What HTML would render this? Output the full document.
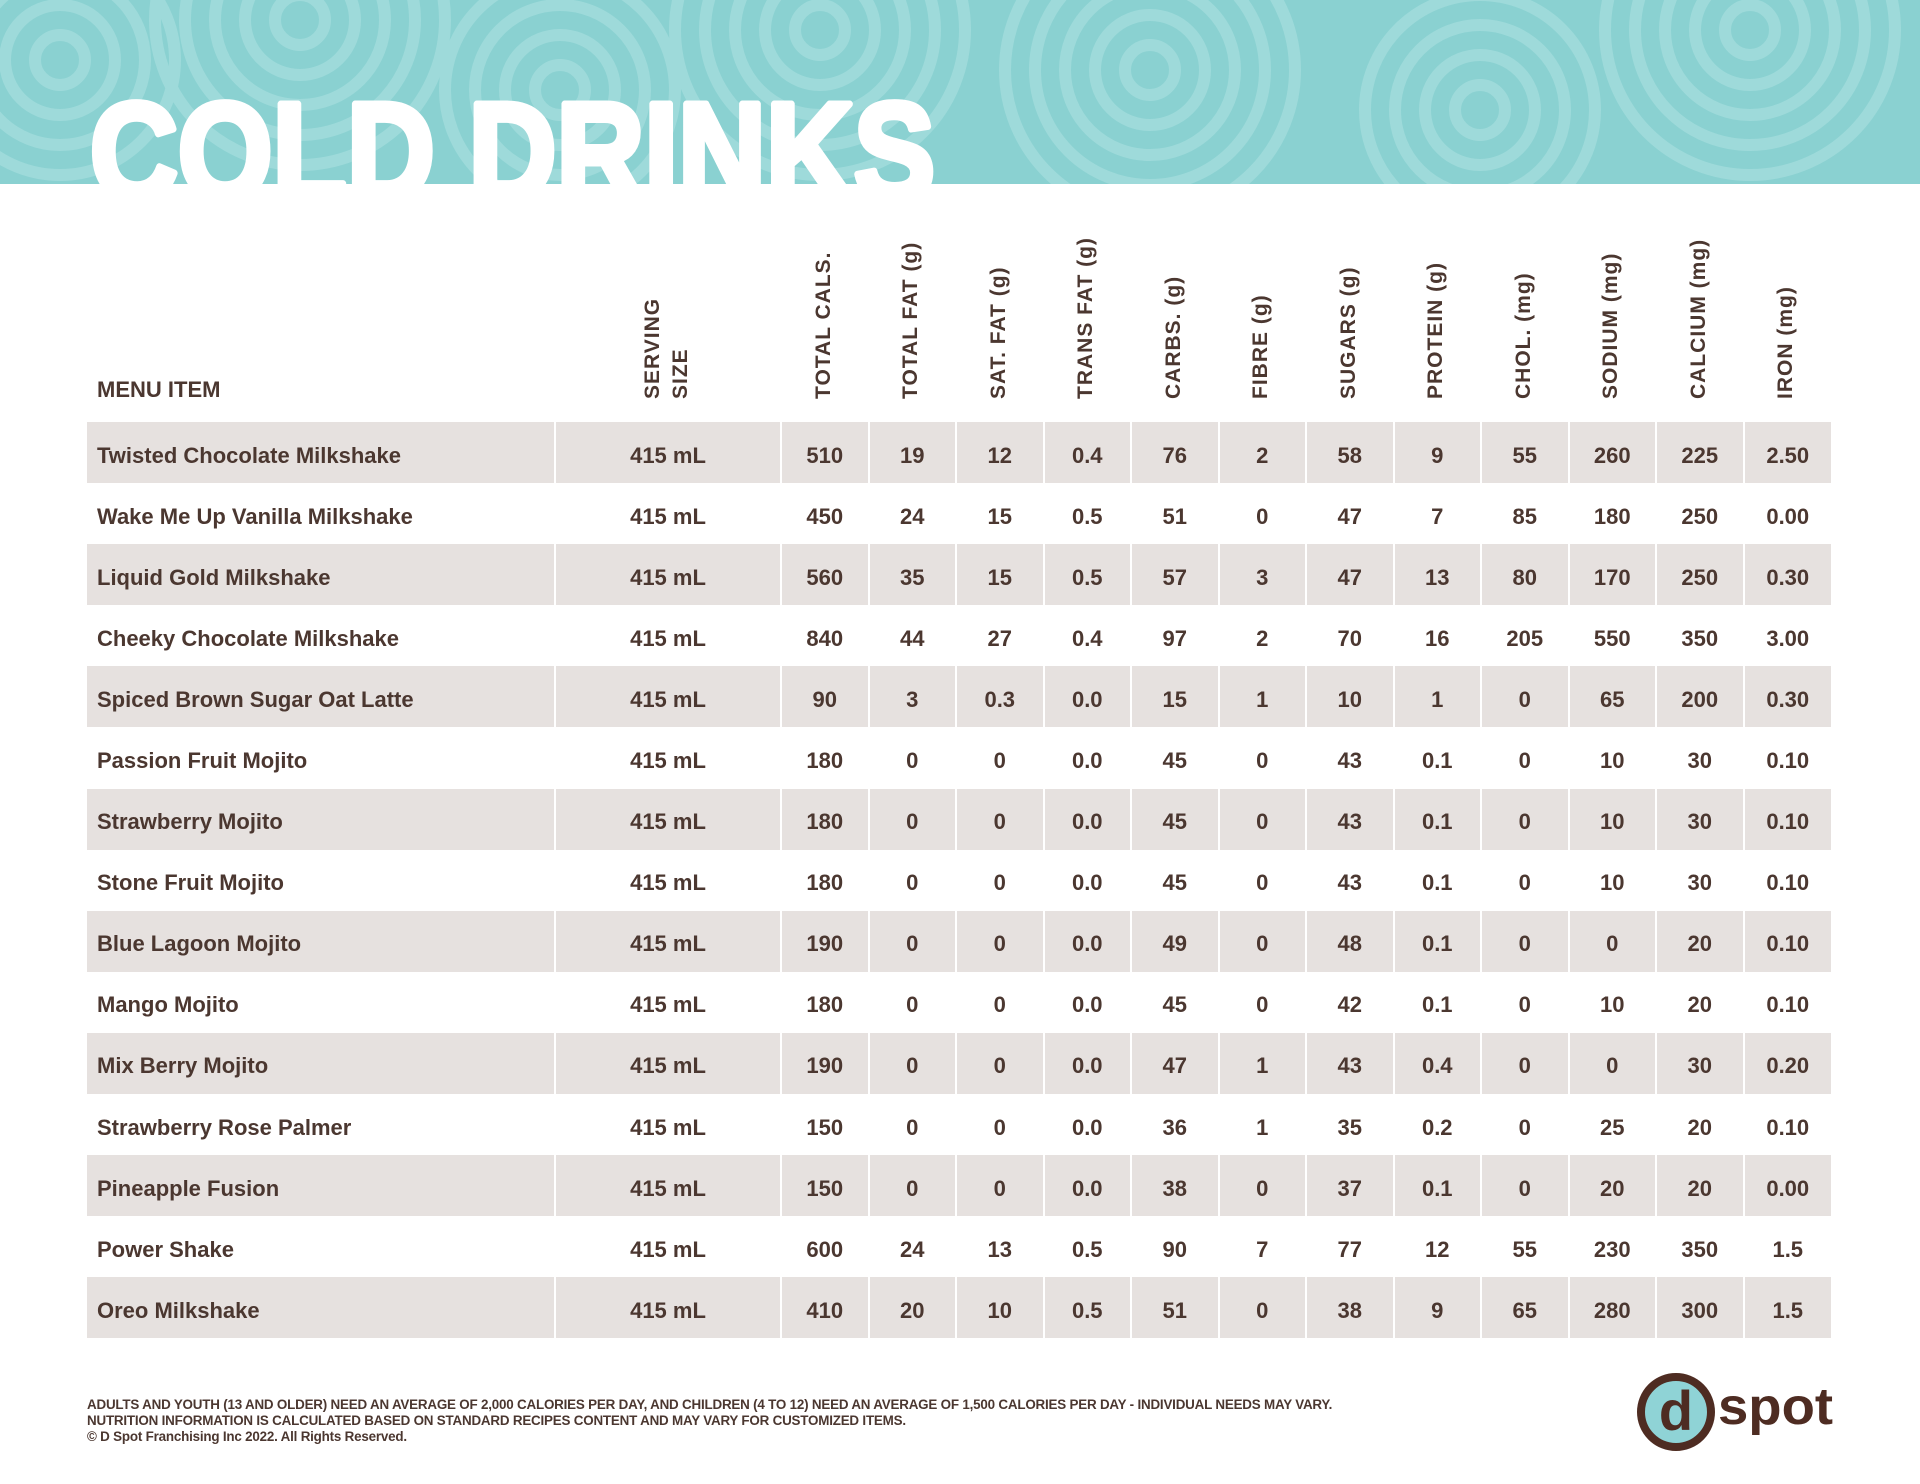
<!DOCTYPE html>
<html><head><meta charset="utf-8"><style>
*{margin:0;padding:0;box-sizing:border-box}
body{width:1920px;height:1484px;background:#fff;position:relative;overflow:hidden;font-family:"Liberation Sans",sans-serif;color:#4b3730}
.banner{position:absolute;left:0;top:0;width:1920px;height:184px;overflow:hidden;background:#8ad1d1}
.hdr{position:absolute;bottom:1085px;font-size:21px;font-weight:bold;letter-spacing:1px;white-space:nowrap;transform-origin:left bottom;transform:rotate(-90deg)}
table{position:absolute;left:87px;top:422px;border-collapse:collapse;table-layout:fixed}
td{height:61.1px;font-size:22px;font-weight:bold;text-align:center;padding:6px 0 0 0;border-right:2px solid #fff}
td:last-child{border-right:none}
tr:nth-child(odd) td{background:#e6e1df}
td.n{text-align:left;padding-left:10px}
.foot{position:absolute;left:87px;font-size:13.4px;font-weight:bold;white-space:nowrap;letter-spacing:-0.2px}
</style></head><body>
<div class="banner">
<svg width="1920" height="184" style="position:absolute;left:0;top:0">
<g fill="none" stroke="#9edada" stroke-width="12">
<circle cx="60" cy="60" r="25"/><circle cx="60" cy="60" r="55"/><circle cx="60" cy="60" r="85"/><circle cx="60" cy="60" r="115"/>
<circle cx="300" cy="20" r="25"/><circle cx="300" cy="20" r="55"/><circle cx="300" cy="20" r="85"/><circle cx="300" cy="20" r="115"/><circle cx="300" cy="20" r="145"/>
<circle cx="560" cy="90" r="25"/><circle cx="560" cy="90" r="55"/><circle cx="560" cy="90" r="85"/><circle cx="560" cy="90" r="115"/>
<circle cx="820" cy="30" r="25"/><circle cx="820" cy="30" r="55"/><circle cx="820" cy="30" r="85"/><circle cx="820" cy="30" r="115"/><circle cx="820" cy="30" r="145"/>
<circle cx="1150" cy="70" r="25"/><circle cx="1150" cy="70" r="55"/><circle cx="1150" cy="70" r="85"/><circle cx="1150" cy="70" r="115"/><circle cx="1150" cy="70" r="145"/>
<circle cx="1480" cy="110" r="25"/><circle cx="1480" cy="110" r="55"/><circle cx="1480" cy="110" r="85"/><circle cx="1480" cy="110" r="115"/>
<circle cx="1750" cy="30" r="25"/><circle cx="1750" cy="30" r="55"/><circle cx="1750" cy="30" r="85"/><circle cx="1750" cy="30" r="115"/><circle cx="1750" cy="30" r="145"/>
</g>
<text x="90" y="199" font-family="Liberation Sans" font-weight="bold" font-size="138" fill="#fff" stroke="#fff" stroke-width="7" stroke-linejoin="round" textLength="845" lengthAdjust="spacingAndGlyphs">COLD DRINKS</text>
</svg>
</div>
<div style="position:absolute;left:97px;top:377px;font-size:22px;font-weight:bold">MENU ITEM</div>
<div class="hdr" style="left:695px;line-height:28px">SERVING<br>SIZE</div>
<div class="hdr" style="left:836px">TOTAL CALS.</div>
<div class="hdr" style="left:923px">TOTAL FAT (g)</div>
<div class="hdr" style="left:1011px">SAT. FAT (g)</div>
<div class="hdr" style="left:1098px">TRANS FAT (g)</div>
<div class="hdr" style="left:1186px">CARBS. (g)</div>
<div class="hdr" style="left:1273px">FIBRE (g)</div>
<div class="hdr" style="left:1361px">SUGARS (g)</div>
<div class="hdr" style="left:1448px">PROTEIN (g)</div>
<div class="hdr" style="left:1536px">CHOL. (mg)</div>
<div class="hdr" style="left:1623px">SODIUM (mg)</div>
<div class="hdr" style="left:1711px">CALCIUM (mg)</div>
<div class="hdr" style="left:1798px">IRON (mg)</div>
<table>
<colgroup><col style="width:468px"><col style="width:226px"><col span="13" style="width:87.5px"></colgroup>
<tr><td class="n">Twisted Chocolate Milkshake</td><td>415 mL</td><td>510</td><td>19</td><td>12</td><td>0.4</td><td>76</td><td>2</td><td>58</td><td>9</td><td>55</td><td>260</td><td>225</td><td>2.50</td></tr>
<tr><td class="n">Wake Me Up Vanilla Milkshake</td><td>415 mL</td><td>450</td><td>24</td><td>15</td><td>0.5</td><td>51</td><td>0</td><td>47</td><td>7</td><td>85</td><td>180</td><td>250</td><td>0.00</td></tr>
<tr><td class="n">Liquid Gold Milkshake</td><td>415 mL</td><td>560</td><td>35</td><td>15</td><td>0.5</td><td>57</td><td>3</td><td>47</td><td>13</td><td>80</td><td>170</td><td>250</td><td>0.30</td></tr>
<tr><td class="n">Cheeky Chocolate Milkshake</td><td>415 mL</td><td>840</td><td>44</td><td>27</td><td>0.4</td><td>97</td><td>2</td><td>70</td><td>16</td><td>205</td><td>550</td><td>350</td><td>3.00</td></tr>
<tr><td class="n">Spiced Brown Sugar Oat Latte</td><td>415 mL</td><td>90</td><td>3</td><td>0.3</td><td>0.0</td><td>15</td><td>1</td><td>10</td><td>1</td><td>0</td><td>65</td><td>200</td><td>0.30</td></tr>
<tr><td class="n">Passion Fruit Mojito</td><td>415 mL</td><td>180</td><td>0</td><td>0</td><td>0.0</td><td>45</td><td>0</td><td>43</td><td>0.1</td><td>0</td><td>10</td><td>30</td><td>0.10</td></tr>
<tr><td class="n">Strawberry Mojito</td><td>415 mL</td><td>180</td><td>0</td><td>0</td><td>0.0</td><td>45</td><td>0</td><td>43</td><td>0.1</td><td>0</td><td>10</td><td>30</td><td>0.10</td></tr>
<tr><td class="n">Stone Fruit Mojito</td><td>415 mL</td><td>180</td><td>0</td><td>0</td><td>0.0</td><td>45</td><td>0</td><td>43</td><td>0.1</td><td>0</td><td>10</td><td>30</td><td>0.10</td></tr>
<tr><td class="n">Blue Lagoon Mojito</td><td>415 mL</td><td>190</td><td>0</td><td>0</td><td>0.0</td><td>49</td><td>0</td><td>48</td><td>0.1</td><td>0</td><td>0</td><td>20</td><td>0.10</td></tr>
<tr><td class="n">Mango Mojito</td><td>415 mL</td><td>180</td><td>0</td><td>0</td><td>0.0</td><td>45</td><td>0</td><td>42</td><td>0.1</td><td>0</td><td>10</td><td>20</td><td>0.10</td></tr>
<tr><td class="n">Mix Berry Mojito</td><td>415 mL</td><td>190</td><td>0</td><td>0</td><td>0.0</td><td>47</td><td>1</td><td>43</td><td>0.4</td><td>0</td><td>0</td><td>30</td><td>0.20</td></tr>
<tr><td class="n">Strawberry Rose Palmer</td><td>415 mL</td><td>150</td><td>0</td><td>0</td><td>0.0</td><td>36</td><td>1</td><td>35</td><td>0.2</td><td>0</td><td>25</td><td>20</td><td>0.10</td></tr>
<tr><td class="n">Pineapple Fusion</td><td>415 mL</td><td>150</td><td>0</td><td>0</td><td>0.0</td><td>38</td><td>0</td><td>37</td><td>0.1</td><td>0</td><td>20</td><td>20</td><td>0.00</td></tr>
<tr><td class="n">Power Shake</td><td>415 mL</td><td>600</td><td>24</td><td>13</td><td>0.5</td><td>90</td><td>7</td><td>77</td><td>12</td><td>55</td><td>230</td><td>350</td><td>1.5</td></tr>
<tr><td class="n">Oreo Milkshake</td><td>415 mL</td><td>410</td><td>20</td><td>10</td><td>0.5</td><td>51</td><td>0</td><td>38</td><td>9</td><td>65</td><td>280</td><td>300</td><td>1.5</td></tr>
</table>
<div class="foot" style="top:1397px">ADULTS AND YOUTH (13 AND OLDER) NEED AN AVERAGE OF 2,000 CALORIES PER DAY, AND CHILDREN (4 TO 12) NEED AN AVERAGE OF 1,500 CALORIES PER DAY - INDIVIDUAL NEEDS MAY VARY.</div>
<div class="foot" style="top:1413px">NUTRITION INFORMATION IS CALCULATED BASED ON STANDARD RECIPES CONTENT AND MAY VARY FOR CUSTOMIZED ITEMS.</div>
<div class="foot" style="top:1429px">© D Spot Franchising Inc 2022. All Rights Reserved.</div>
<svg width="220" height="100" style="position:absolute;left:1630px;top:1362px">
<circle cx="46" cy="50" r="35" fill="#8fd3d6" stroke="#4e2c22" stroke-width="8"/>
<text x="46" y="68" text-anchor="middle" font-family="Liberation Sans" font-weight="bold" font-size="56" fill="#4e2c22">d</text>
<text x="88" y="62" font-family="Liberation Sans" font-weight="bold" font-size="52" fill="#4e2c22" textLength="115" lengthAdjust="spacingAndGlyphs">spot</text>
</svg>
</body></html>
